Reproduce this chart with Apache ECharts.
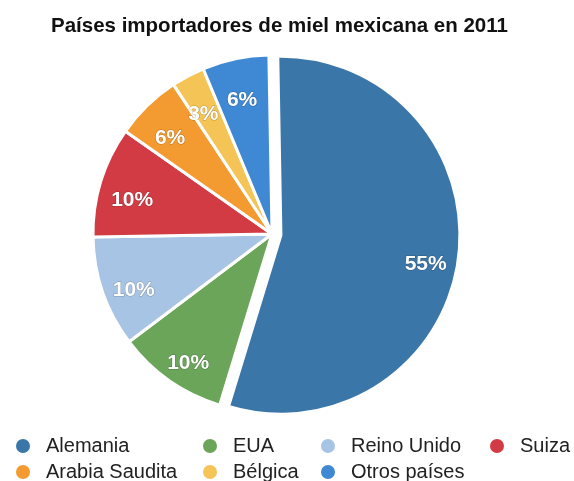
<!DOCTYPE html>
<html>
<head>
<meta charset="utf-8">
<script src="https://cdn.jsdelivr.net/npm/echarts@6/dist/echarts.min.js"></script>
<style>
  html, body { margin: 0; padding: 0; background: #fff; }
  #chart { width: 574px; height: 481px; }
</style>
</head>
<body>
<div id="chart"></div>
<script>
// datos del gráfico
const paises = ['Alemania', 'EUA', 'Reino Unido', 'Suiza', 'Arabia Saudita', 'Bélgica', 'Otros países']
const porcentajes = [55, 10, 10, 10, 6, 3, 6]
const colores = ['#3b76a9', '#6aa55a', '#a8c4e4', '#d23b43', '#f39a30', '#f5c457', '#3f88d3']

// columnas de la leyenda
const columnasLeyenda = [
    ['Alemania', 'Arabia Saudita'],
    ['EUA', 'Bélgica'],
    ['Reino Unido', 'Otros países'],
    ['Suiza']
]
const leyendaX = [14, 201, 319, 488]

const chart = echarts.init(document.getElementById('chart'))

const centro = [272, 234]
const radio = 179

const pieData = paises.map((name, i) => ({
    name,
    value: porcentajes[i],
    selected: i === 0,
    itemStyle: { color: colores[i] }
}))

const labelData = paises.map((name, i) => ({
    name,
    value: porcentajes[i],
    selected: i === 0
}))

const option = {
    backgroundColor: '#fff',
    title: {
        text: 'Países importadores de miel mexicana en 2011',
        left: 46,
        top: 11,
        textStyle: {
            fontFamily: 'Liberation Sans',
            fontWeight: 'bold',
            fontSize: 20.5,
            color: '#111'
        }
    },
    legend: columnasLeyenda.map((col, k) => ({
        orient: 'vertical',
        left: leyendaX[k],
        top: 436,
        height: 60,
        padding: 0,
        icon: 'circle',
        itemWidth: 16,
        itemHeight: 16,
        itemGap: 6,
        selectedMode: false,
        data: col.map(n => ({ name: n, itemStyle: { color: colores[paises.indexOf(n)] } })),
        textStyle: {
            fontFamily: 'Liberation Sans',
            fontSize: 20,
            lineHeight: 18,
            color: '#222',
            padding: [0, 0, 0, 10]
        }
    })),
    series: [
        {
            type: 'pie',
            center: centro,
            radius: [0, radio],
            startAngle: 91,
            selectedMode: 'single',
            selectedOffset: 9,
            silent: true,
            animation: false,
            itemStyle: { borderColor: '#fff', borderWidth: 3 },
            label: { show: false },
            labelLine: { show: false },
            data: pieData
        },
        {
            // serie transparente solo para colocar las etiquetas más afuera
            type: 'pie',
            center: centro,
            radius: [radio * 0.6, radio],
            startAngle: 91,
            selectedMode: 'single',
            selectedOffset: 9,
            silent: true,
            animation: false,
            itemStyle: { color: 'rgba(0,0,0,0)' },
            label: {
                show: true,
                position: 'inside',
                formatter: '{c}%',
                fontFamily: 'Liberation Sans',
                fontWeight: 'bold',
                fontSize: 21,
                color: '#fff',
                textBorderColor: 'rgba(0,0,0,0.25)',
                textBorderWidth: 1
            },
            labelLayout: { dy: 9 },
            labelLine: { show: false },
            data: labelData
        }
    ]
}

chart.setOption(option)
</script>
</body>
</html>
